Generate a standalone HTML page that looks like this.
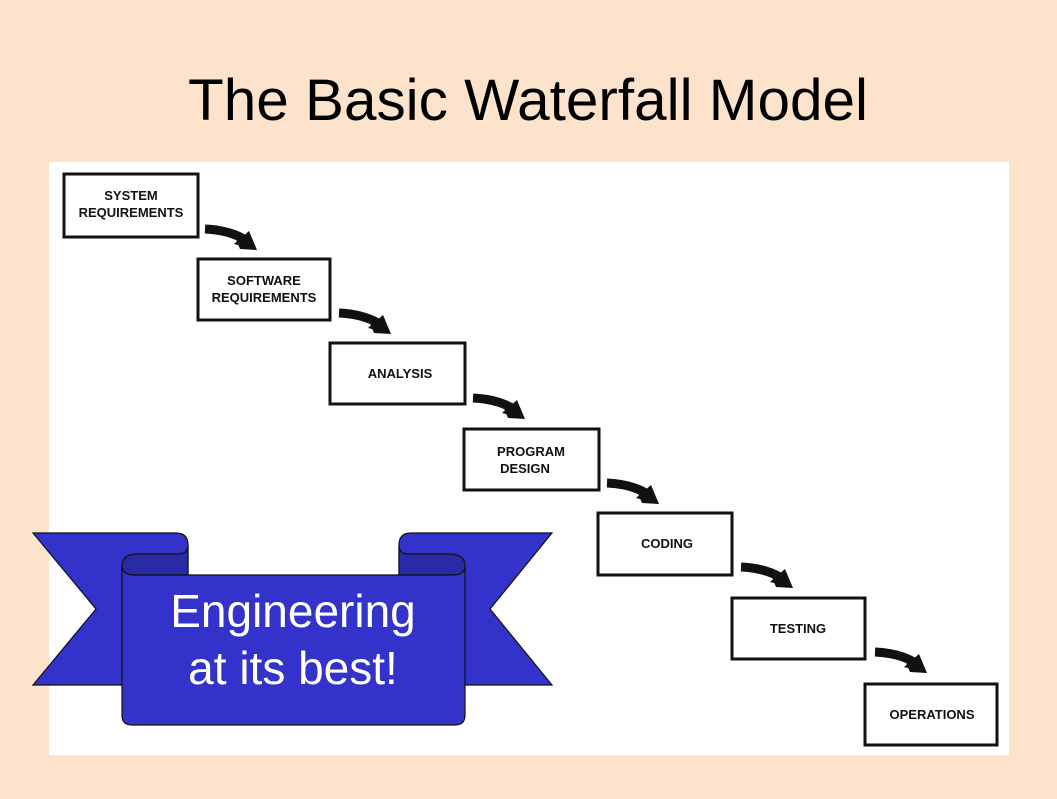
<!DOCTYPE html>
<html><head><meta charset="utf-8"><style>
body{margin:0;width:1057px;height:794px;background:#fde3cb;overflow:hidden;font-family:"Liberation Sans",sans-serif}
</style></head><body>
<svg width="1057" height="794" xmlns="http://www.w3.org/2000/svg">
<rect width="1057" height="794" fill="#fde3cb"/>
<text x="528" y="120" font-size="58" text-anchor="middle" font-family="Liberation Sans, sans-serif" fill="#000" textLength="680" lengthAdjust="spacingAndGlyphs">The Basic Waterfall Model</text>
<rect x="49" y="162" width="960" height="593" fill="#fff"/>
<defs>
<g id="arr">
<path d="M205 229 Q228 230 244 239" stroke="#111" stroke-width="9" fill="none"/>
<polygon points="233,232 257,250 240,249" fill="#111"/>
<polygon points="249,231 257,250 234,244" fill="#111"/>
</g>
</defs>
<g stroke="#111" stroke-width="3" fill="#fff">
<rect x="64" y="174" width="134" height="63"/>
<rect x="198" y="259" width="132" height="61"/>
<rect x="330" y="343" width="135" height="61"/>
<rect x="464" y="429" width="135" height="61"/>
<rect x="598" y="513" width="134" height="62"/>
<rect x="732" y="598" width="133" height="61"/>
<rect x="865" y="684" width="132" height="61"/>
</g>
<use href="#arr"/>
<use href="#arr" transform="translate(134,84)"/>
<use href="#arr" transform="translate(268,169)"/>
<use href="#arr" transform="translate(402,254)"/>
<use href="#arr" transform="translate(536,338)"/>
<use href="#arr" transform="translate(670,423)"/>
<g font-family="Liberation Sans, sans-serif" font-weight="bold" font-size="13" text-anchor="middle" fill="#111">
<text x="131" y="200">SYSTEM</text><text x="131" y="217">REQUIREMENTS</text>
<text x="264" y="285">SOFTWARE</text><text x="264" y="302">REQUIREMENTS</text>
<text x="400" y="378">ANALYSIS</text>
<text x="531" y="456">PROGRAM</text><text x="525" y="473">DESIGN</text>
<text x="667" y="548">CODING</text>
<text x="798" y="633">TESTING</text>
<text x="932" y="719">OPERATIONS</text>
</g>
<g stroke="#111" stroke-width="1.2">
<path d="M33,533 L176,533 Q188,533 188,545 L188,685 L33,685 L96,609 Z" fill="#3333cc"/>
<path d="M552,533 L411,533 Q399,533 399,545 L399,685 L552,685 L490,609 Z" fill="#3333cc"/>
<path d="M122,575 L122,566 Q122,554 138,554 L178,554 Q188,554 188,545 L188,575 Z" fill="#2a2aa6"/>
<path d="M465,575 L465,566 Q465,554 449,554 L409,554 Q399,554 399,545 L399,575 Z" fill="#2a2aa6"/>
<path d="M122,566 Q122,575 135,575 L452,575 Q465,575 465,566 L465,715 Q465,725 455,725 L132,725 Q122,725 122,715 Z" fill="#3333cc"/>
</g>
<g font-family="Liberation Sans, sans-serif" font-size="46" text-anchor="middle" fill="#fff">
<text x="293" y="627">Engineering</text>
<text x="293" y="684">at its best!</text>
</g>
</svg>
</body></html>
